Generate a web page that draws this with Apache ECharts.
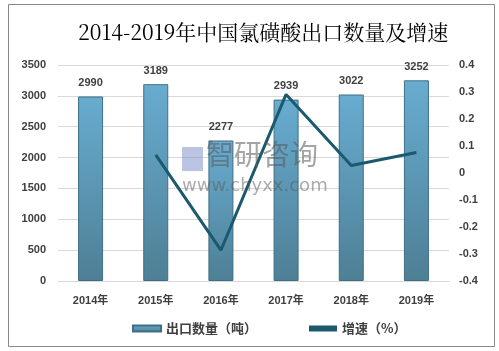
<!DOCTYPE html>
<html>
<head>
<meta charset="utf-8">
<script src="https://cdn.jsdelivr.net/npm/echarts@6/dist/echarts.min.js"></script>
<style>
  html, body { margin: 0; padding: 0; background: #fff; }
  #chart { width: 499px; height: 351px; }
</style>
</head>
<body>
<div id="chart"></div>
<script>
// 数据
const years = ['2014年', '2015年', '2016年', '2017年', '2018年', '2019年']
const exportQty = [2990, 3189, 2277, 2939, 3022, 3252]
const growth = [null, 0.067, -0.286, 0.291, 0.028, 0.076]

const labelColor = '#404040'
const labelFont = '"Liberation Sans", "Noto Sans CJK SC", sans-serif'

let mychart = echarts.init(document.getElementById('chart'))
mychart.setOption({
  animation: false,
  backgroundColor: '#fff',
  title: {
    text: '2014-2019年中国氯磺酸出口数量及增速',
    left: 73,
    top: 17,
    textStyle: {
      fontFamily: '"Noto Serif CJK SC", "DejaVu Serif", "Liberation Serif", serif',
      fontSize: 21,
      fontWeight: 'normal',
      color: '#000',
    },
  },
  graphic: [
    { // 外框
      type: 'rect',
      shape: { x: 8.5, y: 4.5, width: 486, height: 342 },
      style: { fill: 'none', stroke: '#888', lineWidth: 1 },
      z: -1,
    },
    { // 水印
      type: 'text',
      left: 206,
      top: 140,
      style: {
        text: '智研咨询',
        font: '28px "Noto Sans CJK SC", sans-serif',
        fill: 'rgba(90,90,90,0.55)',
      },
      z: 100,
    },
    {
      type: 'rect',
      shape: { x: 182, y: 147, width: 21, height: 24 },
      style: { fill: 'rgba(120,140,200,0.5)' },
      z: 100,
    },
    {
      type: 'text',
      left: 182,
      top: 177,
      style: {
        text: 'www.chyxx.com',
        font: '18px "DejaVu Sans", sans-serif',
        fill: 'rgba(90,90,90,0.5)',
      },
      z: 100,
    },
  ],
  legend: {
    bottom: 11,
    left: 127,
    itemGap: 52,
    itemWidth: 28,
    itemHeight: 6,
    textStyle: {
      fontFamily: '"Noto Sans CJK SC", sans-serif',
      fontWeight: 'bold',
      fontSize: 13,
      color: labelColor,
    },
    data: [
      { name: '出口数量（吨）', icon: 'rect' },
      { name: '增速（%）', icon: 'rect' },
    ],
  },
  grid: {
    left: 58,
    right: 50,
    top: 65,
    bottom: 70,
  },
  xAxis: {
    type: 'category',
    data: years,
    axisLine: { show: true, lineStyle: { color: '#d9d9d9' } },
    axisTick: { show: false },
    axisLabel: {
      color: labelColor,
      fontWeight: 'bold',
      fontSize: 11,
      fontFamily: labelFont,
      margin: 14,
    },
  },
  yAxis: [
    {
      type: 'value',
      min: 0,
      max: 3500,
      interval: 500,
      axisLine: { show: false },
      axisTick: { show: false },
      splitLine: { lineStyle: { color: '#d9d9d9' } },
      axisLabel: {
        color: labelColor,
        fontWeight: 'bold',
        fontSize: 11,
        fontFamily: labelFont,
        margin: 12,
        formatter: v => String(v),
      },
    },
    {
      type: 'value',
      min: -0.4,
      max: 0.4,
      interval: 0.1,
      axisLine: { show: false },
      axisTick: { show: false },
      splitLine: { show: false },
      axisLabel: {
        color: labelColor,
        fontWeight: 'bold',
        fontSize: 11,
        fontFamily: labelFont,
        margin: 10,
        formatter: v => String(Math.round(v * 10) / 10),
      },
    },
  ],
  series: [
    {
      name: '出口数量（吨）',
      type: 'bar',
      data: exportQty,
      barWidth: 25,
      itemStyle: {
        borderColor: '#3f6e84',
        borderWidth: 1,
        color: {
          type: 'linear',
          x: 0, y: 0, x2: 0, y2: 1,
          colorStops: [
            { offset: 0, color: '#68acd0' },
            { offset: 1, color: '#4e7f95' },
          ],
        },
      },
      label: {
        show: true,
        position: 'top',
        distance: 8,
        color: labelColor,
        fontWeight: 'bold',
        fontSize: 11,
        fontFamily: labelFont,
      },
    },
    {
      name: '增速（%）',
      type: 'line',
      yAxisIndex: 1,
      data: growth,
      symbol: 'none',
      lineStyle: { color: '#1b5a6e', width: 3 },
      itemStyle: { color: '#1b5a6e' },
    },
  ],
})
</script>
</body>
</html>
